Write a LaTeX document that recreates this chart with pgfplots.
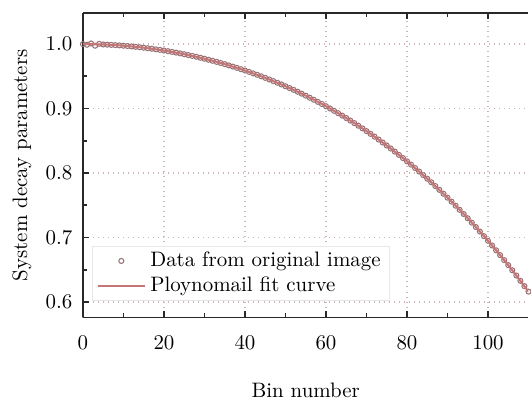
\documentclass[border=0pt]{standalone}
\usepackage{pgfplots}
\pgfplotsset{compat=1.18}
\usepackage{pgfplotstable}
\definecolor{gridc}{RGB}{205,180,180}
\definecolor{markc}{RGB}{150,112,116}
\definecolor{fitc}{RGB}{196,118,118}
\definecolor{axc}{RGB}{40,40,40}
\pgfplotsset{
  marklegend/.style={legend image code/.code={\draw[mark repeat=2,mark phase=2,##1] plot coordinates {(0cm,0cm) (0.4cm,0cm) (0.8cm,0cm)};}},
  linelegend/.style={legend image code/.code={\draw[##1] (0cm,0cm) -- (0.8cm,0cm);}},
}
\pgfplotstableread{
x y
0 1.0000
1 0.9990
2 1.0010
3 0.9975
4 1.0004
5 0.9994
6 0.9991
7 0.9988
8 0.9984
9 0.9980
10 0.9975
11 0.9970
12 0.9964
13 0.9958
14 0.9951
15 0.9944
16 0.9936
17 0.9928
18 0.9919
19 0.9910
20 0.9900
21 0.9890
22 0.9879
23 0.9868
24 0.9856
25 0.9843
26 0.9830
27 0.9817
28 0.9803
29 0.9788
30 0.9773
31 0.9757
32 0.9741
33 0.9724
34 0.9707
35 0.9689
36 0.9670
37 0.9651
38 0.9631
39 0.9611
40 0.9590
41 0.9569
42 0.9546
43 0.9524
44 0.9500
45 0.9476
46 0.9451
47 0.9426
48 0.9400
49 0.9374
50 0.9346
51 0.9318
52 0.9290
53 0.9261
54 0.9231
55 0.9200
56 0.9168
57 0.9136
58 0.9104
59 0.9070
60 0.9036
61 0.9001
62 0.8965
63 0.8928
64 0.8891
65 0.8853
66 0.8814
67 0.8774
68 0.8734
69 0.8693
70 0.8650
71 0.8607
72 0.8564
73 0.8519
74 0.8473
75 0.8427
76 0.8380
77 0.8332
78 0.8282
79 0.8232
80 0.8181
81 0.8130
82 0.8077
83 0.8023
84 0.7968
85 0.7912
86 0.7856
87 0.7798
88 0.7739
89 0.7679
90 0.7618
91 0.7556
92 0.7493
93 0.7429
94 0.7364
95 0.7298
96 0.7230
97 0.7162
98 0.7092
99 0.7021
100 0.6949
101 0.6876
102 0.6801
103 0.6726
104 0.6649
105 0.6571
106 0.6491
107 0.6410
108 0.6328
109 0.6245
110 0.6160
}\datatable
\pgfplotstableread{
x y
0 1.0000
5 0.9994
10 0.9975
15 0.9944
20 0.9900
25 0.9843
30 0.9773
35 0.9689
40 0.9590
45 0.9476
50 0.9346
55 0.9200
60 0.9036
65 0.8853
70 0.8650
75 0.8427
80 0.8181
85 0.7912
90 0.7618
95 0.7298
100 0.6949
105 0.6571
110 0.6160
}\fittable
\begin{document}
\begin{tikzpicture}
\begin{axis}[
  scale only axis,
  width=213.2pt, height=145.6pt,
  xmin=0, xmax=110, ymin=0.576, ymax=1.048,
  axis x line=box, axis y line*=left,
  axis line style={axc, line width=0.8pt},
  xtick={0,20,40,60,80,100},
  ytick={0.6,0.7,0.8,0.9,1.0},
  minor x tick num=1, minor y tick num=1,
  major tick length=3pt, minor tick length=2pt,
  tick style={axc, line width=0.8pt},
  yticklabel style={xshift=-1.5pt, /pgf/number format/.cd, fixed, fixed zerofill, precision=1},
  xticklabel style={yshift=-5.5pt},
  xmajorgrids, ymajorgrids,
  grid style={gridc, dotted, line width=0.8pt},
  xlabel={Bin number}, ylabel={System decay parameters},
  xlabel style={yshift=-9pt},
  ylabel style={yshift=0pt},
  clip mode=individual,
  legend cell align=left,
  legend style={at={(axis description cs:0.02,0.055)}, anchor=south west,
    draw={rgb,255:red,232;green,232;blue,232}, fill=white, font=\normalsize,
    row sep=-0.5pt, inner xsep=2pt, inner ysep=0.5pt},
]
\addplot[only marks, mark=o, mark size=1.2pt, draw=markc, mark options={line width=0.5pt}, marklegend]
  table[x=x,y=y] {\datatable};
\addlegendentry{Data from original image}
\addplot[fitc, line width=1pt, smooth, linelegend]
  table[x=x,y=y] {\fittable};
\addlegendentry{Ploynomail fit curve}
\end{axis}
\path ([xshift=-39.7pt,yshift=-25.2pt]current axis.south west) rectangle ([yshift=6.3pt]current axis.north east);
\end{tikzpicture}
\end{document}
